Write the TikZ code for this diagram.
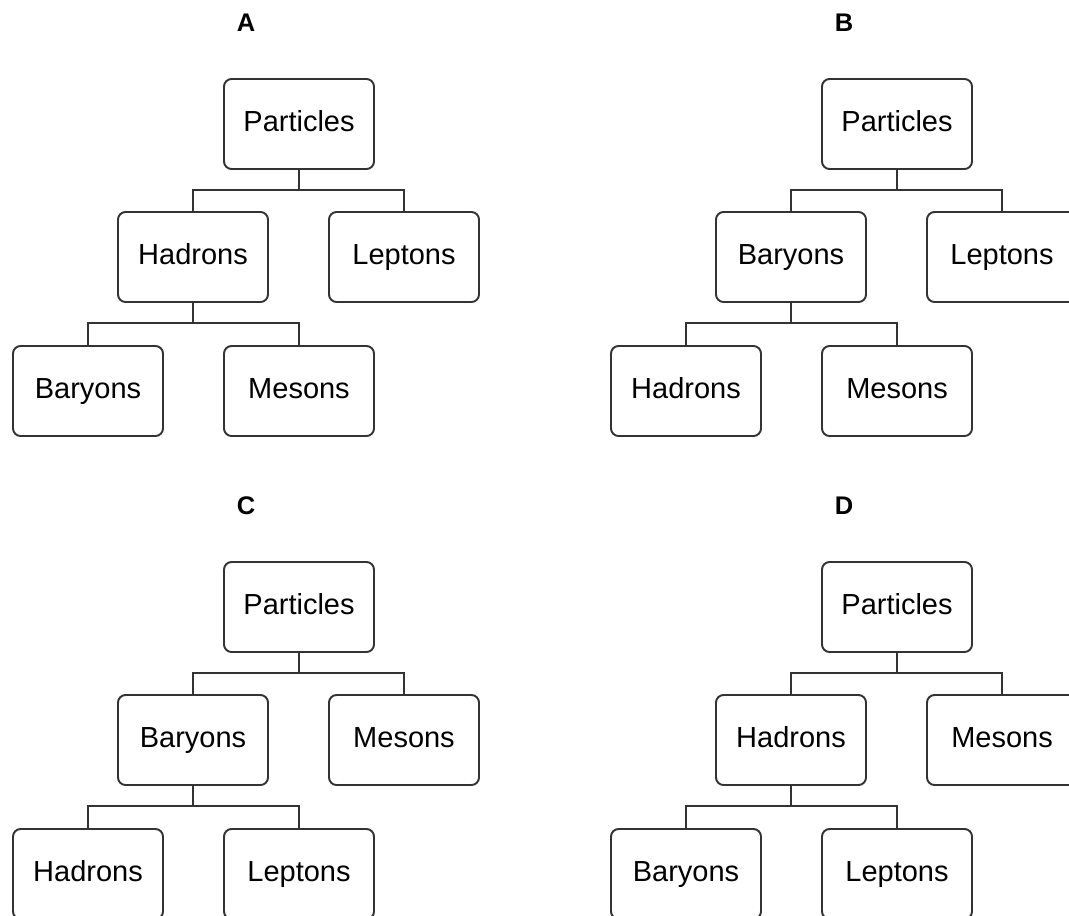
\documentclass[tikz,border=0pt]{standalone}
\usepackage{fontspec}
\setmainfont{Liberation Sans}

\begin{document}
\begin{tikzpicture}[x=0.02cm, y=-0.02cm,
	every node/.style={font=\fontsize{16.5}{18}\selectfont},
	box/.style={draw=black!80, line width=1.1pt, rounded corners=0.15cm, minimum width=3cm, minimum height=1.8cm, inner sep=0pt, text height=9pt, text depth=0pt},
	tag/.style={font=\fontsize{14.5}{16}\selectfont\bfseries},
	link/.style={draw=black!80, line width=1.1pt}]
	\useasboundingbox (0,0) rectangle (1069,916);
	\clip (0,0) rectangle (1069,916);
	% one tree per answer
	\foreach \tag/\dx/\dy/\ml/\mr/\ll/\lr in {A/0/0/Hadrons/Leptons/Baryons/Mesons, B/598/0/Baryons/Leptons/Hadrons/Mesons, C/0/483/Baryons/Mesons/Hadrons/Leptons, D/598/483/Hadrons/Mesons/Baryons/Leptons} {
		\begin{scope}[shift={(\dx,\dy)}]
			\node[tag] (\tag) at (246,23) {\tag};
			\node[box] (\tag-top) at (299,124) {Particles};
			\node[box] (\tag-ml) at (193,257) {\ml};
			\node[box] (\tag-mr) at (404,257) {\mr};
			\node[box] (\tag-ll) at (88,391) {\ll};
			\node[box] (\tag-lr) at (299,391) {\lr};
			\draw[link] (\tag-top.south) -- ++(0,20) -| (\tag-ml.north);
			\draw[link] (\tag-top.south) -- ++(0,20) -| (\tag-mr.north);
			\draw[link] (\tag-ml.south) -- ++(0,20) -| (\tag-ll.north);
			\draw[link] (\tag-ml.south) -- ++(0,20) -| (\tag-lr.north);
		\end{scope}
	}
\end{tikzpicture}
\end{document}
